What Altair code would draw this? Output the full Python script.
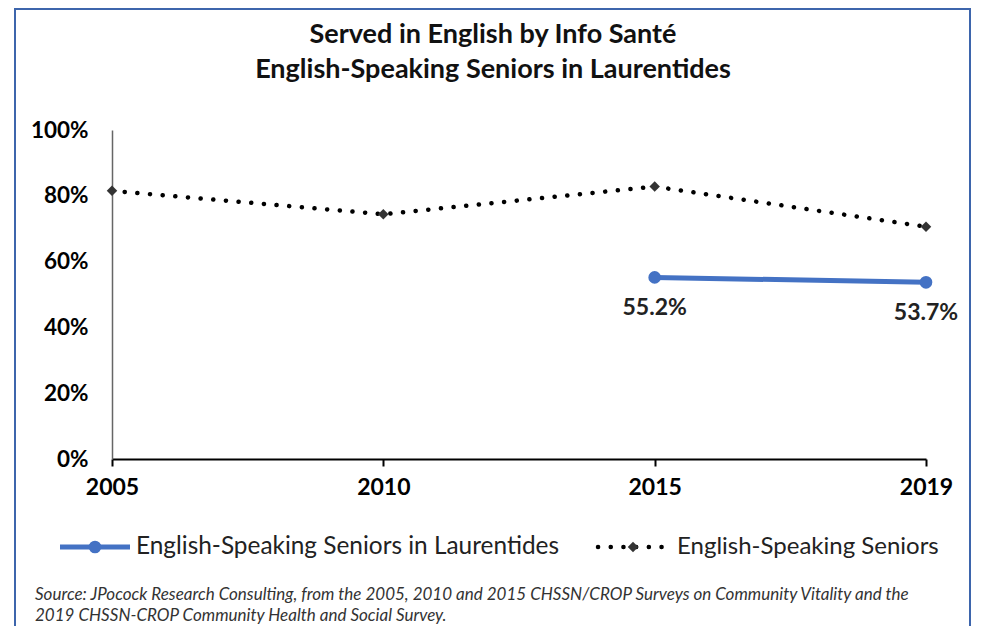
import altair as alt
import pandas as pd

years = ["2005", "2010", "2015", "2019"]
seniors = [0.815, 0.744, 0.828, 0.706]
laur_years = ["2015", "2019"]
laurentides = [0.552, 0.537]
series_names = ["English-Speaking Seniors in Laurentides", "English-Speaking Seniors"]
title_lines = ["Served in English by Info Santé", "English-Speaking Seniors in Laurentides"]
y_ticks = [0, 0.2, 0.4, 0.6, 0.8, 1.0]
source_lines = [
    "Source: JPocock Research Consulting, from the 2005, 2010  and 2015  CHSSN/CROP Surveys on Community Vitality and the",
    "2019  CHSSN-CROP Community Health and Social Survey.",
]

BLUE = "#4472C4"
FRAME = "#3d65ac"
FONT = "Lato"
W, H = 814, 329

df_s = pd.DataFrame({"year": years, "value": seniors, "series": series_names[1]})
df_l = pd.DataFrame({"year": laur_years, "value": laurentides, "series": series_names[0]})
df_l["label"] = [f"{v * 100:.1f}%" for v in laurentides]

x_enc = alt.X(
    "year:O",
    sort=years,
    scale=alt.Scale(type="point", padding=0, domain=years),
    axis=alt.Axis(
        title=None, labelAngle=0, domainColor="black", domainWidth=2,
        tickColor="black", tickWidth=2, tickSize=7, labelFontSize=23,
        labelFontWeight="bold", labelFont=FONT, labelColor="black", labelPadding=10,
        grid=False,
    ),
)
y_enc = alt.Y(
    "value:Q",
    scale=alt.Scale(domain=[0, 1], nice=False),
    axis=alt.Axis(
        title=None, values=y_ticks, format=".0%", domainColor="#666666",
        domainWidth=1.5, ticks=False, labelPadding=24, labelFontSize=22.5,
        labelFontWeight="bold", labelFont=FONT, labelColor="black", grid=False,
    ),
)

dotted = alt.Chart(df_s).mark_line(
    color="black", strokeWidth=4.5, strokeDash=[0.1, 12.6], strokeCap="round"
).encode(x=x_enc, y=y_enc)
diamonds = alt.Chart(df_s).mark_point(
    shape="diamond", filled=True, size=110, color="#333333", opacity=1
).encode(x=x_enc, y=y_enc)
blue_line = alt.Chart(df_l).mark_line(color=BLUE, strokeWidth=5).encode(x=x_enc, y=y_enc)
blue_pts = alt.Chart(df_l).mark_circle(size=160, color=BLUE, opacity=1).encode(x=x_enc, y=y_enc)
labels = alt.Chart(df_l).mark_text(
    dy=31, fontSize=23, fontWeight="bold", font=FONT, color="#222222"
).encode(x=x_enc, y=y_enc, text="label:N")

one = alt.Data(values=[{}])
frame = alt.Chart(one).mark_rect(filled=False, stroke=FRAME, strokeWidth=2).encode(
    x=alt.value(-97), x2=alt.value(858), y=alt.value(-121), y2=alt.value(530)
)
title1 = alt.Chart(one).mark_text(
    align="center", baseline="middle", fontSize=27, font=FONT, fontWeight="bold",
    color="#111111", text=title_lines[0],
).encode(x=alt.value(381), y=alt.value(-95))
title2 = alt.Chart(one).mark_text(
    align="center", baseline="middle", fontSize=27, font=FONT, fontWeight="bold",
    color="#111111", text=title_lines[1],
).encode(x=alt.value(381), y=alt.value(-60))
leg1_line = alt.Chart(one).mark_rule(color=BLUE, strokeWidth=5).encode(
    x=alt.value(-52), x2=alt.value(18), y=alt.value(417)
)
leg1_pt = alt.Chart(one).mark_circle(size=160, color=BLUE, opacity=1).encode(
    x=alt.value(-17), y=alt.value(417)
)
leg1_txt = alt.Chart(one).mark_text(
    align="left", baseline="middle", fontSize=24.4, font=FONT, color="#222222",
    text=series_names[0],
).encode(x=alt.value(24), y=alt.value(417))
leg2_line = alt.Chart(one).mark_rule(
    color="black", strokeWidth=4.5, strokeDash=[0.1, 12.6], strokeCap="round"
).encode(x=alt.value(486), x2=alt.value(551), y=alt.value(417))
leg2_pt = alt.Chart(one).mark_point(
    shape="diamond", filled=True, size=110, color="#333333", opacity=1
).encode(x=alt.value(521), y=alt.value(417))
leg2_txt = alt.Chart(one).mark_text(
    align="left", baseline="middle", fontSize=24, font=FONT, color="#222222",
    text=series_names[1],
).encode(x=alt.value(565), y=alt.value(417))
source = alt.Chart(one).mark_text(
    align="left", baseline="top", fontSize=17, font=FONT, fontStyle="italic",
    color="#333333", lineHeight=20.5, text=source_lines,
).encode(x=alt.value(-77), y=alt.value(457))

chart = alt.layer(
    frame, dotted, diamonds, blue_line, blue_pts, labels, title1, title2,
    leg1_line, leg1_pt, leg1_txt, leg2_line, leg2_pt, leg2_txt, source,
).properties(
    width=W, height=H,
    autosize=alt.AutoSizeParams(type="none"),
    padding={"left": 104, "top": 122, "right": 47, "bottom": 167},
    background="white",
).configure_view(stroke=None)

chart.save("out.html", embed_options={"renderer": "svg", "actions": False})
